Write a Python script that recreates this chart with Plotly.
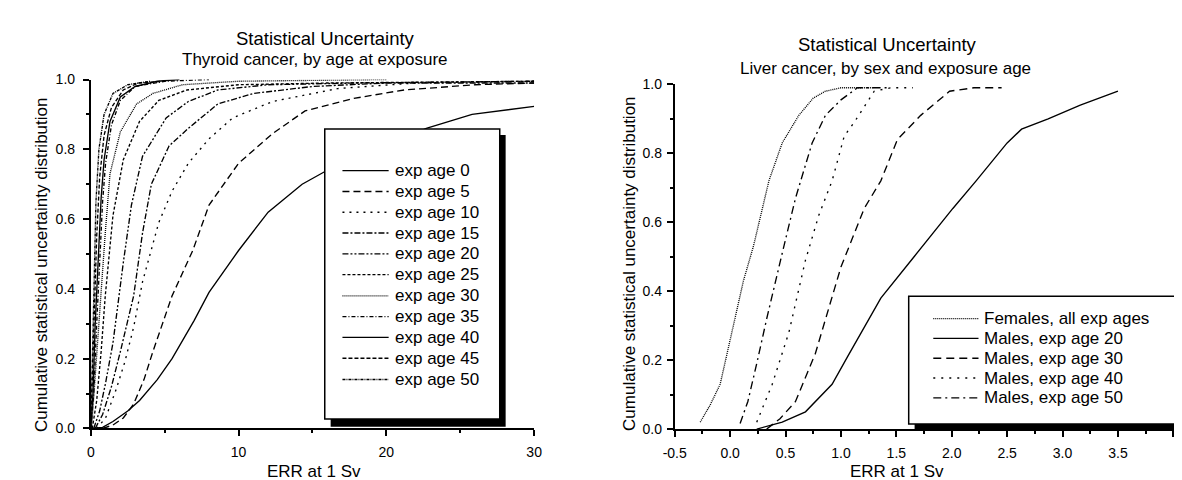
import plotly.graph_objects as go

W, H = 1182, 480
FONT = "Liberation Sans, Arial, sans-serif"

def px(x):
    return x / W

def py(y):
    return 1 - y / H

# ---------------- Left panel data: thyroid cancer, by age at exposure ----------------
age_labels = ["exp age 0", "exp age 5", "exp age 10", "exp age 15", "exp age 20", "exp age 25",
              "exp age 30", "exp age 35", "exp age 40", "exp age 45", "exp age 50"]

x_age0 = [0, 0.8, 1.5, 2.5, 3.3, 4.5, 5.5, 7.0, 8.0, 10.0, 12.0, 14.3, 16.0, 18.0, 20.0, 22.7, 25.8, 30.0]
y_age0 = [0, 0.003, 0.02, 0.05, 0.08, 0.14, 0.2, 0.31, 0.39, 0.51, 0.62, 0.70, 0.74, 0.78, 0.81, 0.86, 0.90, 0.923]

x_age5 = [0.8, 1.5, 2.2, 2.9, 3.6, 4.2, 5.5, 6.9, 8.0, 10.0, 12.3, 14.5, 17.8, 21.2, 26.0, 30.0]
y_age5 = [0, 0.01, 0.03, 0.07, 0.14, 0.22, 0.38, 0.51, 0.64, 0.76, 0.845, 0.91, 0.946, 0.97, 0.985, 0.99]

x_age10 = [0.4, 1.0, 1.7, 2.3, 2.9, 3.5, 4.6, 5.5, 6.6, 8.0, 9.6, 12.3, 16.7, 22.0, 30.0]
y_age10 = [0, 0.03, 0.11, 0.19, 0.29, 0.42, 0.59, 0.68, 0.76, 0.83, 0.89, 0.937, 0.974, 0.99, 0.995]

x_age15 = [0.3, 0.8, 1.4, 2.0, 2.9, 3.5, 4.1, 5.3, 6.6, 8.6, 11.0, 15.0, 20.0, 30.0]
y_age15 = [0, 0.04, 0.12, 0.22, 0.38, 0.56, 0.70, 0.81, 0.86, 0.93, 0.96, 0.98, 0.99, 0.99]

x_age20 = [0.2, 0.6, 1.0, 1.5, 2.2, 2.75, 3.5, 5.1, 6.6, 8.6, 12.0, 18.0, 30.0]
y_age20 = [0, 0.05, 0.13, 0.245, 0.475, 0.64, 0.78, 0.89, 0.937, 0.97, 0.985, 0.99, 0.995]

x_age25 = [0.1, 0.4, 0.7, 0.98, 1.5, 2.2, 3.3, 4.6, 6.5, 10.0, 16.0, 30.0]
y_age25 = [0, 0.08, 0.22, 0.38, 0.61, 0.77, 0.88, 0.94, 0.97, 0.985, 0.99, 0.995]

x_age30 = [0.05, 0.3, 0.64, 0.98, 1.3, 2.0, 3.1, 4.2, 6.2, 10.0, 20.0]
y_age30 = [0, 0.15, 0.38, 0.56, 0.73, 0.85, 0.93, 0.96, 0.985, 0.995, 1.0]

x_age35 = [0, 0.2, 0.4, 0.6, 0.8, 1.0, 1.4, 2.0, 3.0, 5.0, 8.0]
y_age35 = [0, 0.1, 0.3, 0.5, 0.65, 0.76, 0.87, 0.94, 0.98, 0.995, 1.0]

x_age40 = [0, 0.15, 0.3, 0.5, 0.7, 0.9, 1.3, 2.0, 3.0, 4.5, 6.0]
y_age40 = [0, 0.1, 0.3, 0.5, 0.66, 0.77, 0.88, 0.95, 0.98, 0.995, 1.0]

x_age45 = [0, 0.1, 0.25, 0.4, 0.6, 0.9, 1.4, 2.2, 3.2, 5.0]
y_age45 = [0, 0.15, 0.35, 0.55, 0.72, 0.84, 0.92, 0.97, 0.99, 0.995]

x_age50 = [0, 0.1, 0.2, 0.35, 0.55, 0.9, 1.5, 2.5, 4.0]
y_age50 = [0, 0.2, 0.45, 0.65, 0.8, 0.9, 0.96, 0.985, 0.995]

left_x = [x_age0, x_age5, x_age10, x_age15, x_age20, x_age25, x_age30, x_age35, x_age40, x_age45, x_age50]
left_y = [y_age0, y_age5, y_age10, y_age15, y_age20, y_age25, y_age30, y_age35, y_age40, y_age45, y_age50]
left_dash = ["solid", "7px,4px", "2px,5px", "6px,2px,2px,2px", "6px,2px,2px,2px,2px,2px", "3px,2px",
             "1px,1px", "4px,2px,1px,2px", "solid", "4px,2px", "3px,1px,1px,1px"]

# ---------------- Right panel data: liver cancer, by sex and exposure age ----------------
liver_labels = ["Females, all exp ages", "Males, exp age 20", "Males, exp age 30",
                "Males, exp age 40", "Males, exp age 50"]

x_fem = [-0.27, -0.18, -0.09, 0.04, 0.12, 0.21, 0.28, 0.35, 0.47, 0.62, 0.75, 0.86, 1.0, 1.3]
y_fem = [0.02, 0.07, 0.13, 0.32, 0.43, 0.53, 0.63, 0.72, 0.83, 0.91, 0.96, 0.98, 0.99, 0.99]

x_m20 = [0.24, 0.35, 0.47, 0.68, 0.92, 1.06, 1.36, 1.66, 2.01, 2.22, 2.5, 2.63, 2.87, 3.16, 3.5]
y_m20 = [0.0, 0.01, 0.02, 0.05, 0.13, 0.21, 0.38, 0.50, 0.64, 0.72, 0.83, 0.87, 0.90, 0.94, 0.98]

x_m30 = [0.33, 0.45, 0.59, 0.77, 1.0, 1.21, 1.36, 1.51, 1.72, 1.98, 2.2, 2.45]
y_m30 = [0.0, 0.03, 0.08, 0.22, 0.47, 0.64, 0.72, 0.84, 0.91, 0.98, 0.99, 0.99]

x_m40 = [0.24, 0.38, 0.53, 0.68, 0.80, 0.92, 1.03, 1.12, 1.24, 1.30, 1.45, 1.65]
y_m40 = [0.02, 0.13, 0.28, 0.49, 0.62, 0.72, 0.85, 0.89, 0.95, 0.98, 0.99, 0.99]

x_m50 = [0.09, 0.16, 0.24, 0.33, 0.47, 0.59, 0.74, 0.86, 1.0, 1.15, 1.3, 1.45]
y_m50 = [0.016, 0.08, 0.19, 0.32, 0.51, 0.67, 0.83, 0.91, 0.955, 0.99, 0.99, 0.99]

right_x = [x_fem, x_m20, x_m30, x_m40, x_m50]
right_y = [y_fem, y_m20, y_m30, y_m40, y_m50]
right_dash = ["1px,1px", "solid", "8px,5px", "2px,6px", "8px,4px,2px,4px"]

# tick labels
left_xticks = [0, 10, 20, 30]
y_ticks = [0.0, 0.2, 0.4, 0.6, 0.8, 1.0]
right_xticks = [-0.5, 0.0, 0.5, 1.0, 1.5, 2.0, 2.5, 3.0, 3.5, 4.0]
right_xticktext = ["-0.5", "0.0", "0.5", "1.0", "1.5", "2.0", "2.5", "3.0", "3.5", ""]

LW = 1.35

fig = go.Figure()
for name, xs, ys, d in zip(age_labels, left_x, left_y, left_dash):
    fig.add_trace(go.Scatter(x=xs, y=ys, mode="lines", name=name, showlegend=False,
                             line=dict(color="black", width=LW, dash=d), xaxis="x", yaxis="y"))
for name, xs, ys, d in zip(liver_labels, right_x, right_y, right_dash):
    fig.add_trace(go.Scatter(x=xs, y=ys, mode="lines", name=name, showlegend=False,
                             line=dict(color="black", width=LW, dash=d), xaxis="x2", yaxis="y2"))

axis_common = dict(showline=True, linecolor="black", linewidth=1.8, ticks="outside", ticklen=6,
                   tickwidth=1.5, tickcolor="black", showgrid=False, zeroline=False,
                   tickfont=dict(family=FONT, size=14, color="black"))

fig.update_layout(
    width=W, height=H, autosize=False,
    margin=dict(l=0, r=0, t=0, b=0),
    paper_bgcolor="white", plot_bgcolor="white",
    showlegend=False,
    xaxis=dict(domain=[px(72), px(523)], range=[0, 30], anchor="y", tickmode="array",
               tickvals=left_xticks, ticklabelstandoff=4,
               minor=dict(ticks="outside", ticklen=3, tickcolor="black", tick0=0, dtick=5),
               **axis_common),
    yaxis=dict(domain=[py(426.7), py(65.7)], range=[0, 1], anchor="x", tickmode="array",
               tickvals=y_ticks, tickformat=".1f", ticklabelstandoff=5,
               minor=dict(ticks="outside", ticklen=3, tickcolor="black", tick0=0, dtick=0.1),
               **axis_common),
    xaxis2=dict(domain=[px(666), 1.0], range=[-0.5, 4.078], anchor="y2", tickmode="array",
                tickvals=right_xticks, ticktext=right_xticktext, ticklabelstandoff=4,
                minor=dict(ticks="outside", ticklen=3, tickcolor="black", tick0=-0.5, dtick=0.25),
                **axis_common),
    yaxis2=dict(domain=[py(427.3), py(70.7)], range=[0, 1], anchor="x2", tickmode="array",
                tickvals=y_ticks, tickformat=".1f", ticklabelstandoff=2,
                minor=dict(ticks="outside", ticklen=3, tickcolor="black", tick0=0, dtick=0.1),
                **axis_common),
)

shapes = []
annotations = []

def text(x, y, s, size, anchor="center", angle=0):
    annotations.append(dict(x=px(x), y=py(y), xref="paper", yref="paper", text=s, showarrow=False,
                            xanchor=anchor, yanchor="middle", textangle=angle,
                            font=dict(family=FONT, size=size, color="black")))

# titles
text(311, 23, "Statistical Uncertainty", 18.5)
text(300, 45.5, "Thyroid cancer, by age at exposure", 17)
text(882, 29, "Statistical Uncertainty", 18.5)
text(880, 54, "Liver cancer, by sex and exposure age", 17)

# axis titles
text(299, 471, "ERR at 1 Sv", 17)
text(892, 471, "ERR at 1 Sv", 17)
text(22, 258, "Cumulative statistical uncertainty distribution", 17, angle=-90)
text(620, 257, "Cumulative statistical uncertainty distribution", 17, angle=-90)

# left legend box with shadow
shapes.append(dict(type="rect", xref="paper", yref="paper", x0=px(316), x1=px(494), y0=py(425), y1=py(123),
                   fillcolor="black", line=dict(width=0), layer="above"))
shapes.append(dict(type="rect", xref="paper", yref="paper", x0=px(310), x1=px(488), y0=py(417), y1=py(117),
                   fillcolor="white", line=dict(color="black", width=1.5), layer="above"))
row_y = [160, 181.5, 203, 224.5, 246, 267.5, 289.5, 311, 332.5, 354, 376]
for lab, d, ry in zip(age_labels, left_dash, row_y):
    shapes.append(dict(type="line", xref="paper", yref="paper", x0=px(328), x1=px(375), y0=py(ry), y1=py(ry),
                       line=dict(color="black", width=LW, dash=d), layer="above"))
    text(379, ry, lab, 17, anchor="left")

# right legend box with shadow (extends past the right edge)
shapes.append(dict(type="rect", xref="paper", yref="paper", x0=px(910), x1=px(1200), y0=py(428), y1=py(296),
                   fillcolor="black", line=dict(width=0), layer="above"))
shapes.append(dict(type="rect", xref="paper", yref="paper", x0=px(904), x1=px(1200), y0=py(422), y1=py(290),
                   fillcolor="white", line=dict(color="black", width=1.5), layer="above"))
row_y2 = [313, 333.5, 354, 374.5, 395]
for lab, d, ry in zip(liver_labels, right_dash, row_y2):
    shapes.append(dict(type="line", xref="paper", yref="paper", x0=px(929), x1=px(975), y0=py(ry), y1=py(ry),
                       line=dict(color="black", width=LW, dash=d), layer="above"))
    text(979, ry, lab, 17, anchor="left")

fig.update_layout(shapes=shapes, annotations=annotations)
fig.write_html("out.html")
